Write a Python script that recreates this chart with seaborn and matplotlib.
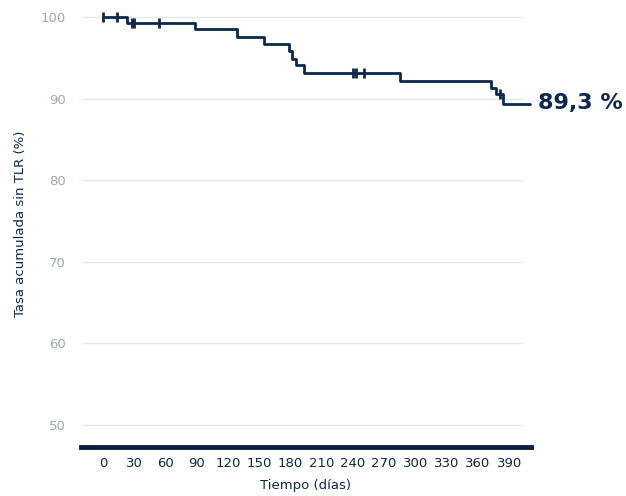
import numpy as np
import pandas as pd
import matplotlib
matplotlib.use("Agg")
import matplotlib.pyplot as plt
import seaborn as sns

# Kaplan-Meier steps
step_days = [0, 23, 88, 129, 155, 179, 182, 185, 193, 285, 373, 377, 384, 410]
step_surv = [100, 99.3, 98.5, 97.6, 96.7, 95.8, 94.9, 94.1, 93.2, 92.2, 91.3, 90.6, 89.3, 89.3]
cens_days = [0, 14, 28, 30, 54, 240, 243, 251, 381]
cens_surv = [100, 100, 99.3, 99.3, 99.3, 93.2, 93.2, 93.2, 90.6]
xticks = [0, 30, 60, 90, 120, 150, 180, 210, 240, 270, 300, 330, 360, 390]
yticks = [50, 60, 70, 80, 90, 100]
final_label = "89,3 %"

navy = "#0b2850"
grey = "#9aaabb"

sns.set_style("white")
plt.rcParams['font.family'] = ['DejaVu Sans']

fig = plt.figure(figsize=(6.26, 4.96), dpi=100)
ax = fig.add_axes([81 / 626, 1 - 447 / 496, 450 / 626, 447 / 496])

for y in yticks:
    ax.hlines(y, -20, 403, color="#e6e9ec", lw=1, zorder=0)

df = pd.DataFrame({"dias": step_days, "tasa": step_surv})
sns.lineplot(data=df, x="dias", y="tasa", drawstyle="steps-post", color=navy,
             lw=2, estimator=None, ax=ax, clip_on=False)
cf = pd.DataFrame({"dias": cens_days, "tasa": cens_surv})
sns.scatterplot(data=cf, x="dias", y="tasa", marker="|", s=45, linewidth=2,
                color=navy, ax=ax, zorder=3, clip_on=False)

ax.text(418, step_surv[-1] + 0.2, final_label, color=navy, fontsize=16, fontweight="bold",
        va="center", ha="left")

ax.set_xlim(-21, 411)
ax.set_ylim(47.3, 102.1)
ax.set_xticks(xticks, labels=[str(t) for t in xticks])
ax.set_yticks(yticks, labels=[str(t) for t in yticks])
ax.minorticks_off()
ax.tick_params(axis="x", colors=navy, labelsize=9.5, length=0, pad=7)
ax.tick_params(axis="y", colors=grey, labelsize=9.5, length=0, pad=11)
ax.set_xlabel("Tiempo (días)", color=navy, fontsize=9.5, labelpad=7)
ax.set_ylabel("Tasa acumulada sin TLR (%)", color=navy, fontsize=9.5, labelpad=10)

for s in ["top", "right", "left"]:
    ax.spines[s].set_visible(False)
ax.spines["bottom"].set_color("#061f40")
ax.spines["bottom"].set_linewidth(3.5)

fig.savefig("out.png", dpi=100)
